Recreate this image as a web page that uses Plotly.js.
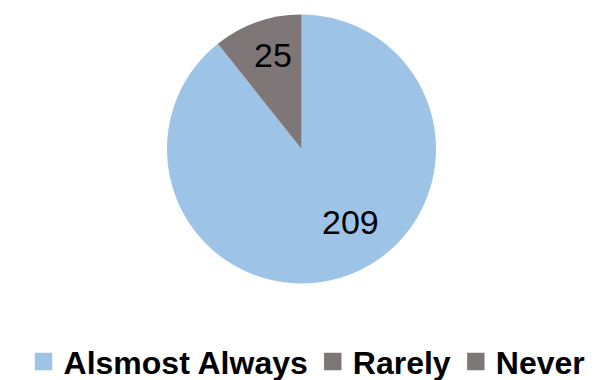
<!DOCTYPE html>
<html>
<head>
<meta charset="utf-8">
<script src="https://cdn.plot.ly/plotly-3.0.1.min.js"></script>
<style>html,body{margin:0;padding:0;background:#fff;}</style>
</head>
<body>
<div id="chart" style="width:608px;height:380px;"></div>
<script>
const categories = ["Alsmost Always", "Rarely", "Never"];
const values = [209, 0, 25];
const colors = ["#9DC3E6", "#7F7777", "#7F7777"];

const FONT = "Liberation Sans, Arial, sans-serif";

// paper-coordinate anchor for each slice's value label (layout only)
const labelPos = [[0.5757, 0.416], null, [0.449, 0.855]];

const data = [{
  type: "pie",
  labels: categories,
  values: values,
  sort: false,
  direction: "clockwise",
  rotation: 0,
  marker: {colors: colors, line: {width: 0}},
  textinfo: "none",
  hoverinfo: "label+value",
  domain: {x: [0.2747, 0.7171], y: [0.2526, 0.9632]}
}];

const annotations = [];
values.forEach((v, i) => {
  if (!v || !labelPos[i]) return;
  annotations.push({
    xref: "paper", yref: "paper",
    x: labelPos[i][0], y: labelPos[i][1],
    xanchor: "center", yanchor: "middle",
    text: String(v), showarrow: false,
    font: {family: FONT, size: 34, color: "#000"}
  });
});

const layout = {
  width: 608, height: 380,
  margin: {l: 0, r: 0, t: 0, b: 0, autoexpand: false},
  paper_bgcolor: "#fff",
  showlegend: true,
  annotations: annotations,
  legend: {
    orientation: "h", x: 0.505, xanchor: "center", y: 0.048, yanchor: "middle",
    font: {family: FONT, size: 32, color: "#000", weight: "bold"},
    itemwidth: 30, traceorder: "normal"
  }
};

Plotly.newPlot("chart", data, layout, {displayModeBar: false, staticPlot: true}).then(() => {
  document.querySelectorAll(".legendpoints path").forEach(p => {
    p.setAttribute("transform", (p.getAttribute("transform") || "") + " scale(1.45)");
  });
});
</script>
</body>
</html>
